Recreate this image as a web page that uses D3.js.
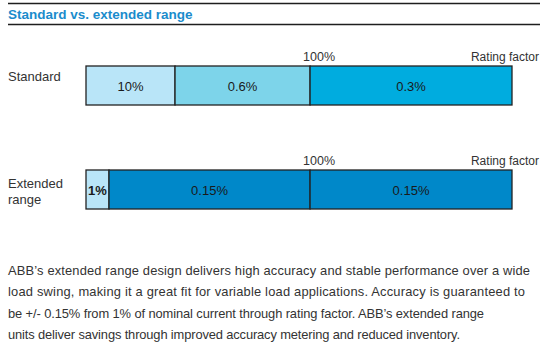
<!DOCTYPE html>
<html>
<head>
	<meta charset="utf-8">
	<script type="text/javascript" src="https://cdn.jsdelivr.net/npm/d3@7/dist/d3.min.js"></script>
	<title>Standard vs. extended range</title>
	<style>
		body { margin: 0; background: #fff; }
		text { font-family: "Liberation Sans", Arial, sans-serif; }
	</style>
</head>
<body>
<script type="text/javascript">

	/*------ data ------*/

	var rowNames = [ ['Standard'], ['Extended', 'range'] ];
	// share of each bar (0..1, start to rating factor)
	var standardWidths = [ 0.209, 0.317, 0.474 ];
	var standardLabels = [ '10%', '0.6%', '0.3%' ];
	var extendedWidths = [ 0.054, 0.472, 0.474 ];
	var extendedLabels = [ '1%', '0.15%', '0.15%' ];
	var markLabels = [ '100%', 'Rating factor' ];
	var title = 'Standard vs. extended range';
	var paragraph = [
		'ABB\u2019s extended range design delivers high accuracy and stable performance over a wide',
		'load swing, making it a great fit for variable load applications. Accuracy is guaranteed to',
		'be +/- 0.15% from 1% of nominal current through rating factor. ABB\u2019s extended range',
		'units deliver savings through improved accuracy metering and reduced inventory.'
	];
	var paragraphWidths = [ 522, 517, 476, 452 ];

	/*----- layout -----*/

	var svgWidth = 545;
	var svgHeight = 344;
	var barH = 39;

	var svg = d3.select('body')
			.append('svg')
			.attr('width', svgWidth)
			.attr('height', svgHeight);

	var xScale = d3.scaleLinear()
			.domain([0, 1])
			.range([86, 512]);

	// header rules + title
	svg.selectAll('line.rule')
		.data([3.5, 24.5])
		.enter()
		.append('line')
		.attr('class', 'rule')
		.attr('x1', 8).attr('x2', 540)
		.attr('y1', function (d) { return d; })
		.attr('y2', function (d) { return d; })
		.attr('stroke', '#1e1e1e')
		.attr('stroke-width', 1.5);

	svg.append('text')
		.attr('x', 8).attr('y', 19)
		.attr('font-size', 13.5)
		.attr('font-weight', 'bold')
		.attr('fill', '#1b8ccc')
		.text(title);

	var rows = [
		{ top: 66, widths: standardWidths, labels: standardLabels,
		  colors: ['#b9e5f8', '#7dd4ea', '#00acdf'], bold: [false, false, false], name: rowNames[0] },
		{ top: 170, widths: extendedWidths, labels: extendedLabels,
		  colors: ['#b9e5f8', '#0088c9', '#0088c9'], bold: [true, false, false], name: rowNames[1] }
	];

	rows.forEach(function (row) {
		var starts = [0];
		row.widths.forEach(function (w, i) { starts.push(starts[i] + w); });
		var segs = row.widths.map(function (w, i) {
			return { x0: starts[i], x1: starts[i + 1], label: row.labels[i], color: row.colors[i], bold: row.bold[i] };
		});

		var g = svg.append('g');

		g.selectAll('rect')
			.data(segs)
			.enter()
			.append('rect')
			.attr('x', function (d) { return xScale(d.x0); })
			.attr('y', row.top)
			.attr('width', function (d) { return xScale(d.x1) - xScale(d.x0); })
			.attr('height', barH)
			.attr('fill', function (d) { return d.color; })
			.attr('stroke', '#222')
			.attr('stroke-width', 1.3);

		g.selectAll('text.seg')
			.data(segs)
			.enter()
			.append('text')
			.attr('class', 'seg')
			.attr('x', function (d) { return (xScale(d.x0) + xScale(d.x1)) / 2; })
			.attr('y', row.top + barH / 2 + 5)
			.attr('text-anchor', 'middle')
			.attr('font-size', 13)
			.attr('font-weight', function (d) { return d.bold ? 'bold' : 'normal'; })
			.attr('fill', '#1a1a1a')
			.text(function (d) { return d.label; });

		// 100% mark sits at the end of the second segment
		g.append('text')
			.attr('x', xScale(starts[2]) - 7)
			.attr('y', row.top - 5)
			.attr('font-size', 12.5)
			.attr('fill', '#333')
			.text(markLabels[0]);

		g.append('text')
			.attr('x', 539)
			.attr('y', row.top - 5)
			.attr('text-anchor', 'end')
			.attr('font-size', 12)
			.attr('fill', '#333')
			.text(markLabels[1]);

		var nameY = row.name.length === 1 ? row.top + 15 : row.top + 18;
		g.selectAll('text.name')
			.data(row.name)
			.enter()
			.append('text')
			.attr('class', 'name')
			.attr('x', 8)
			.attr('y', function (d, i) { return nameY + i * 15.5; })
			.attr('font-size', 13)
			.attr('fill', '#333')
			.text(function (d) { return d; });
	});

	svg.selectAll('text.para')
		.data(paragraph)
		.enter()
		.append('text')
		.attr('class', 'para')
		.attr('x', 8)
		.attr('y', function (d, i) { return 275 + i * 21.3; })
		.attr('font-size', 12.9)
		.attr('fill', '#333')
		.attr('textLength', function (d, i) { return paragraphWidths[i]; })
		.attr('lengthAdjust', 'spacing')
		.text(function (d) { return d; });

</script>
</body>
</html>
